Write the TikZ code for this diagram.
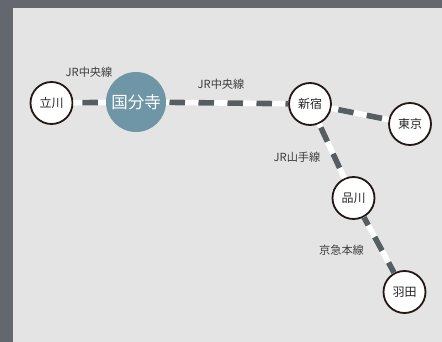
\documentclass[tikz,border=0pt]{standalone}
\usepackage{fontspec}
\setmainfont{Noto Sans CJK JP}
\definecolor{framec}{HTML}{62686D}
\definecolor{bgc}{HTML}{E4E4E4}
\definecolor{mainc}{HTML}{6E96A6}
\definecolor{dashc}{HTML}{575E61}
\definecolor{ringc}{HTML}{231815}
\definecolor{labc}{HTML}{3C3C3C}
\begin{document}
\begin{tikzpicture}[x=1pt,y=-1pt,
  station/.style={circle,draw=ringc,line width=1.8pt,fill=white,minimum size=42pt,inner sep=0pt,
    font=\fontsize{12}{14}\selectfont,text=black!85},
  mainst/.style={circle,fill=mainc,minimum size=60pt,inner sep=0pt,
    font=\fontsize{16.5}{19}\selectfont,text=white},
  linelabel/.style={font=\fontsize{11.2}{13}\selectfont,text=labc,inner sep=0pt},
  railbase/.style={white,line width=5.6pt},
  raildash/.style={dashc,line width=5.6pt,dash pattern=on 15.5pt off 13.5pt}]
\useasboundingbox (0,0) rectangle (442,342);
\fill[framec] (0,0) rectangle (442,342);
\fill[bgc] (13,8) rectangle (442,342);

\node[station] (tachikawa) at (51.5,103) {立川};
\node[mainst] (kokubunji) at (136,102) {国分寺};
\node[station] (shinjuku) at (310,104) {新宿};
\node[station] (tokyo) at (410,124) {東京};
\node[station] (shinagawa) at (353.5,198) {品川};
\node[station] (haneda) at (404.5,292) {羽田};

\draw[railbase] (tachikawa) -- (kokubunji);
\draw[raildash,dash phase=20pt] (tachikawa) -- (kokubunji);
\draw[railbase] (kokubunji) -- (shinjuku);
\draw[raildash,dash phase=25.7pt] (kokubunji) -- (shinjuku);
\draw[railbase] (shinjuku) -- (tokyo);
\draw[raildash,dash phase=22pt] (shinjuku) -- (tokyo);
\draw[railbase] (shinjuku) -- (shinagawa);
\draw[raildash,dash phase=25pt] (shinjuku) -- (shinagawa);
\draw[railbase] (shinagawa) -- (haneda);
\draw[raildash,dash phase=6.5pt] (shinagawa) -- (haneda);

\node[linelabel] (lab1) at (89,72.5) {JR中央線};
\node[linelabel] (lab2) at (221,84) {JR中央線};
\node[linelabel] (lab3) at (297,157) {JR山手線};
\node[linelabel] (lab4) at (341.5,250.5) {京急本線};
\end{tikzpicture}
\end{document}
